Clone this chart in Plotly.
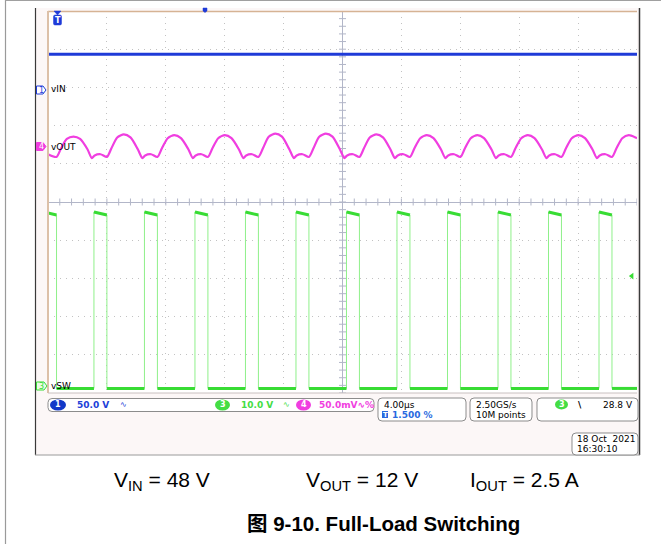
import numpy as np
import plotly.graph_objects as go

# ---------------- data ----------------
time_range_us = [-20.0, 20.0]      # 10 div x 4.00 us/div
screen_div = [-5.0, 5.0]           # 10 vertical divisions

# channel scale (per div) and ground-marker position (div from centre)
ch1_scale_v, ch1_offset_div = 50.0, 2.93      # vIN  (V)
ch3_scale_v, ch3_offset_div = 10.0, -4.82     # vSW  (V)
ch4_scale_mv, ch4_offset_div = 50.0, 1.45     # vOUT (mV, ripple)

vin_t_us = [-20.0, -10.0, 0.0, 10.0, 20.0]
vin_v = [47.0, 46.9, 47.0, 46.9, 47.0]

vsw_rise_us = [-16.88, -13.45, -10.02, -6.59, -3.16, 0.27, 3.70, 7.13, 10.56, 13.99, 17.42]
vsw_fall_us = [-19.42, -16.00, -12.57, -9.14, -5.71, -2.28, 1.15, 4.58, 8.01, 11.44, 14.87, 18.30]
vsw_high_start_v = 45.6
vsw_high_end_v = 44.8
vsw_first_high_v = 45.3
vsw_low_v = -0.6
trigger_level_v = 28.8

vout_t_us = [
    -20.00, -19.42, -19.12, -18.72, -18.27, -17.82, -17.32, -17.02,
    -16.83, -16.43, -16.00, -15.70, -15.30, -14.85, -14.40, -13.90, -13.59,
    -13.40, -13.00, -12.57, -12.27, -11.87, -11.42, -10.97, -10.47, -10.16,
    -9.97, -9.57, -9.14, -8.84, -8.44, -7.99, -7.54, -7.04, -6.73,
    -6.54, -6.14, -5.71, -5.41, -5.01, -4.56, -4.11, -3.61, -3.30,
    -3.11, -2.71, -2.28, -1.98, -1.58, -1.13, -0.68, -0.18, 0.13,
    0.32, 0.72, 1.15, 1.45, 1.85, 2.30, 2.75, 3.25, 3.56,
    3.75, 4.15, 4.58, 4.88, 5.28, 5.73, 6.18, 6.68, 6.99,
    7.18, 7.58, 8.01, 8.31, 8.71, 9.16, 9.61, 10.11, 10.42,
    10.61, 11.01, 11.44, 11.74, 12.14, 12.59, 13.04, 13.54, 13.85,
    14.04, 14.44, 14.87, 15.17, 15.57, 16.02, 16.47, 16.97, 17.28,
    17.47, 17.87, 18.30, 18.60, 19.00, 19.45, 19.90, 20.00,
]
vout_mv = [
    -10.0, -13.5, -2.5, 10.0, 13.0, 10.0, -3.5, -15.0,
    -11.5, -10.0, -13.5, -2.5, 12.0, 16.0, 12.0, -3.5, -15.0,
    -11.5, -10.0, -13.5, -2.5, 11.0, 15.0, 11.0, -3.5, -15.0,
    -11.5, -10.0, -13.5, -2.5, 11.0, 15.0, 11.0, -3.5, -15.0,
    -11.5, -10.0, -13.5, -2.5, 13.0, 17.0, 13.0, -3.5, -15.0,
    -11.5, -10.0, -13.5, -2.5, 13.0, 17.0, 13.0, -3.5, -15.0,
    -11.5, -10.0, -13.5, -2.5, 12.0, 16.0, 12.0, -3.5, -15.0,
    -11.5, -10.0, -13.5, -2.5, 11.0, 15.0, 11.0, -3.5, -15.0,
    -11.5, -10.0, -13.5, -2.5, 11.0, 15.0, 11.0, -3.5, -15.0,
    -11.5, -10.0, -13.5, -2.5, 11.0, 15.0, 11.0, -3.5, -15.0,
    -11.5, -10.0, -13.5, -2.5, 11.0, 15.0, 11.0, -3.5, -15.0,
    -11.5, -10.0, -13.5, -2.5, 11.0, 15.0, 12.0, 11.0,
]

# ---------------- layout geometry (pixels) ----------------
W, H = 661, 544
L, R, T, B = 48, 637, 11, 393

def xp(x):
    return (x - L) / (R - L)

def yp(y):
    return (B - y) / (B - T)

BLUE = "#1f3bd8"
MAG = "#f03ee0"
GREEN = "#38dc34"
GREEN_THIN = "#8ff08a"
GRID = "#c2c2c2"
CROSS = "#b2b6c8"

# ---------------- build traces ----------------
fig = go.Figure()

# minor ticks along the centre cross
fig.add_trace(go.Scatter(x=np.arange(-20, 20.01, 0.8), y=np.zeros(51), mode="markers",
                         marker=dict(symbol="line-ns", size=5, line=dict(color=CROSS, width=1)),
                         hoverinfo="skip", xaxis="x", yaxis="y"))
fig.add_trace(go.Scatter(x=np.zeros(51), y=np.arange(-5, 5.01, 0.2), mode="markers",
                         marker=dict(symbol="line-ew", size=5, line=dict(color=CROSS, width=1)),
                         hoverinfo="skip", xaxis="x", yaxis="y"))

# vSW : thin edges + thick plateaus
events = sorted([(t, "r") for t in vsw_rise_us] + [(t, "f") for t in vsw_fall_us])
thin_x, thin_y = [time_range_us[0]], [vsw_first_high_v]
for t, k in events:
    if k == "f":
        thin_x += [t, t]
        thin_y += [vsw_high_end_v, vsw_low_v]
    else:
        thin_x += [t, t]
        thin_y += [vsw_low_v, vsw_high_start_v]
thin_x.append(time_range_us[1])
thin_y.append(vsw_low_v)

thick_x, thick_y = [], []
prev_state, prev_t = "h0", time_range_us[0]
for t, k in events:
    if k == "f":
        start_v = vsw_first_high_v if prev_state == "h0" else vsw_high_start_v
        thick_x += [prev_t, t, None]
        thick_y += [start_v, vsw_high_end_v, None]
        prev_state, prev_t = "l", t
    else:
        thick_x += [prev_t, t, None]
        thick_y += [vsw_low_v, vsw_low_v, None]
        prev_state, prev_t = "h", t
thick_x += [prev_t, time_range_us[1]]
thick_y += [vsw_low_v, vsw_low_v]

fig.add_trace(go.Scatter(x=thin_x, y=thin_y, mode="lines", line=dict(color=GREEN_THIN, width=1),
                         hoverinfo="skip", xaxis="x", yaxis="y3"))
fig.add_trace(go.Scatter(x=thick_x, y=thick_y, mode="lines", line=dict(color=GREEN, width=3),
                         hoverinfo="skip", xaxis="x", yaxis="y3"))
# trigger level marker
fig.add_trace(go.Scatter(x=[19.65], y=[trigger_level_v], mode="markers",
                         marker=dict(symbol="triangle-left", size=6, color=GREEN),
                         hoverinfo="skip", xaxis="x", yaxis="y3"))

# vIN
fig.add_trace(go.Scatter(x=vin_t_us, y=vin_v, mode="lines", line=dict(color=BLUE, width=3),
                         hoverinfo="skip", xaxis="x", yaxis="y2"))

# vOUT
fig.add_trace(go.Scatter(x=vout_t_us, y=vout_mv, mode="lines",
                         line=dict(color=MAG, width=2.2, shape="spline", smoothing=0.7),
                         hoverinfo="skip", xaxis="x", yaxis="y4"))

def ch_range(scale, off):
    return [(screen_div[0] - off) * scale, (screen_div[1] - off) * scale]

axis_common = dict(showticklabels=False, ticks="", showline=False, fixedrange=True)
fig.update_layout(
    width=W, height=H,
    margin=dict(l=L, r=W - R, t=T, b=H - B),
    paper_bgcolor="white", plot_bgcolor="white", showlegend=False,
    xaxis=dict(range=time_range_us, tick0=-20, dtick=4, showgrid=True, gridcolor=GRID,
               griddash="1px,5px", gridwidth=1, zeroline=True, zerolinecolor=CROSS,
               zerolinewidth=1, **axis_common),
    yaxis=dict(range=screen_div, tick0=-5, dtick=1, showgrid=True, gridcolor=GRID,
               griddash="1px,5px", gridwidth=1, zeroline=True, zerolinecolor=CROSS,
               zerolinewidth=1, **axis_common),
    yaxis2=dict(range=ch_range(ch1_scale_v, ch1_offset_div), overlaying="y", visible=False),
    yaxis3=dict(range=ch_range(ch3_scale_v, ch3_offset_div), overlaying="y", visible=False),
    yaxis4=dict(range=ch_range(ch4_scale_mv, ch4_offset_div), overlaying="y", visible=False),
)

# ---------------- decorations ----------------
shapes = []

def rect(x0, y0, x1, y1, fill=None, line=None, lw=1, layer="below"):
    shapes.append(dict(type="rect", xref="paper", yref="paper",
                       x0=xp(x0), x1=xp(x1), y0=yp(y1), y1=yp(y0),
                       fillcolor=fill if fill else "rgba(0,0,0,0)",
                       line=dict(color=line if line else "rgba(0,0,0,0)", width=lw if line else 0),
                       layer=layer))

def hline(x0, x1, y, color, lw=1, layer="above"):
    shapes.append(dict(type="line", xref="paper", yref="paper", x0=xp(x0), x1=xp(x1),
                       y0=yp(y), y1=yp(y), line=dict(color=color, width=lw), layer=layer))

def vline(x, y0, y1, color, lw=1, layer="above"):
    shapes.append(dict(type="line", xref="paper", yref="paper", x0=xp(x), x1=xp(x),
                       y0=yp(y0), y1=yp(y1), line=dict(color=color, width=lw), layer=layer))

def path(pts, fill, line, lw=1, layer="above"):
    d = "M" + " L".join(f"{xp(x):.5f},{yp(y):.5f}" for x, y in pts) + " Z"
    shapes.append(dict(type="path", xref="paper", yref="paper", path=d,
                       fillcolor=fill, line=dict(color=line, width=lw), layer=layer))

def rrect(x0, y0, x1, y1, r, fill, line, lw=1, layer="above"):
    P = lambda x, y: f"{xp(x):.5f},{yp(y):.5f}"
    d = (f"M{P(x0 + r, y0)} L{P(x1 - r, y0)} Q{P(x1, y0)} {P(x1, y0 + r)} "
         f"L{P(x1, y1 - r)} Q{P(x1, y1)} {P(x1 - r, y1)} L{P(x0 + r, y1)} "
         f"Q{P(x0, y1)} {P(x0, y1 - r)} L{P(x0, y0 + r)} Q{P(x0, y0)} {P(x0 + r, y0)} Z")
    shapes.append(dict(type="path", xref="paper", yref="paper", path=d,
                       fillcolor=fill, line=dict(color=line, width=lw), layer=layer))

def pill(x0, y0, x1, y1, fill):
    shapes.append(dict(type="circle", xref="paper", yref="paper", x0=xp(x0), x1=xp(x1),
                       y0=yp(y1), y1=yp(y0), fillcolor=fill, line=dict(color=fill, width=0),
                       layer="above"))

# scope screenshot background and frame
rect(35, 8, 640, 455, fill="#fcf7f7")
rect(L, T, R, B, fill="white")
vline(35.5, 8, 455, "#3a3a3a", 1.2)
vline(639.5, 8, 455, "#3a3a3a", 1.5)
hline(35, 640, 455, "#9a9a9a", 1)
# plot border
hline(L, R, T + 0.5, "#d6b394", 1.5)
vline(L, T, B, "#dcc0a8", 2)
hline(L, R, B, "#c8c0c0", 1)
# outer figure border
vline(5.5, -5, 560, "#9a9a9a", 1.2)
hline(5, 700, 0.5, "#a0a0a0", 1.2)

# trigger position marker on top
path([(54, 11), (61, 11), (57.5, 15)], BLUE, BLUE, 0.5)
rrect(53.5, 15, 61.5, 25, 1.5, BLUE, BLUE, 0.5)
path([(203, 8), (207, 8), (207, 11), (205, 12.5), (203, 11)], BLUE, BLUE, 0.5)

# channel markers at left
path([(36.5, 86), (43, 86), (46, 90), (43, 94), (36.5, 94)], "white", BLUE, 1)
path([(36.5, 142.5), (43, 142.5), (46, 146.5), (43, 150.5), (36.5, 150.5)], MAG, MAG, 1)
path([(36.5, 382), (44, 382), (47, 386), (44, 390), (36.5, 390)], "#e8fbe6", GREEN, 1)

# status bar boxes
rrect(48, 398.5, 374, 411.5, 4, "white", "#8c8c8c", 1)
rrect(378, 398, 466, 421, 4, "white", "#8c8c8c", 1)
rrect(470, 398, 532, 421, 4, "white", "#8c8c8c", 1)
rrect(537, 398, 638, 421, 4, "white", "#8c8c8c", 1)
rrect(572, 433, 638, 455, 4, "white", "#8c8c8c", 1)
pill(50, 399.5, 66, 410.5, "#1238c8")
pill(215, 399.5, 230, 410.5, "#44dd44")
pill(296, 399.5, 311, 410.5, MAG)
pill(555, 399.5, 568, 409.5, "#44dd44")
rect(382, 411, 388, 418, fill="#2a6ae0", layer="above")

fig.update_layout(shapes=shapes)

# ---------------- text ----------------
ann = []

def text(x, y, s, size=9, color="black", anchor="left", family="DejaVu Sans", bold=False):
    if bold:
        s = f"<b>{s}</b>"
    ann.append(dict(x=xp(x), y=yp(y), xref="paper", yref="paper", text=s, showarrow=False,
                    xanchor=anchor, yanchor="middle", font=dict(size=size, color=color, family=family)))

text(57.5, 20.5, "T", 8, "white", "center", bold=True)
text(41, 90, "1", 8, BLUE, "center")
text(41, 146.5, "4", 8, "white", "center")
text(41.5, 386, "3", 8, GREEN, "center")
text(48.5, 89.5, "vIN", 9)
text(48.5, 146.5, "vOUT", 9)
text(48.5, 385.5, "vSW", 9)

text(58, 405, "1", 8, "white", "center", bold=True)
text(75, 405, "50.0 V", 9, "#2040d8", bold=True)
text(123, 405, "∿", 8, "#2040d8", "center")
text(222.5, 405, "3", 8, "white", "center", bold=True)
text(239, 405, "10.0 V", 9, "#44dd44", bold=True)
text(286, 405, "∿", 8, "#44dd44", "center")
text(303.5, 405, "4", 8, "white", "center", bold=True)
text(317, 405, "50.0mV∿%", 9, MAG, bold=True)

text(382, 404.5, "4.00µs", 9)
text(385, 414.5, "T", 7, "white", "center", bold=True)
text(390, 414.5, "1.500 %", 9, "#2a6ae0", bold=True)
text(474, 404.5, "2.50GS/s", 9)
text(474, 414.5, "10M points", 9)
text(561.5, 404.5, "3", 8, "white", "center", bold=True)
text(580, 404.5, "\\", 9, "black", "center", bold=True)
text(635, 404.5, "28.8 V", 9, "black", "right")
text(575, 439, "18 Oct  2021", 9)
text(575, 449, "16:30:10", 9)

FONT = "Liberation Sans, Arial, Noto Sans CJK SC"
text(112, 481, "V<sub>IN</sub> = 48 V", 21, "black", family=FONT)
text(304, 481, "V<sub>OUT</sub> = 12 V", 21, "black", family=FONT)
text(468, 481, "I<sub>OUT</sub> = 2.5 A", 21, "black", family=FONT)
text(383, 523, "图 9-10. Full-Load Switching", 20.5, "black", "center", family=FONT, bold=True)

fig.update_layout(annotations=ann)

fig.write_html("out.html", config={"displayModeBar": False},
               post_script="document.body.style.margin='0px';")
